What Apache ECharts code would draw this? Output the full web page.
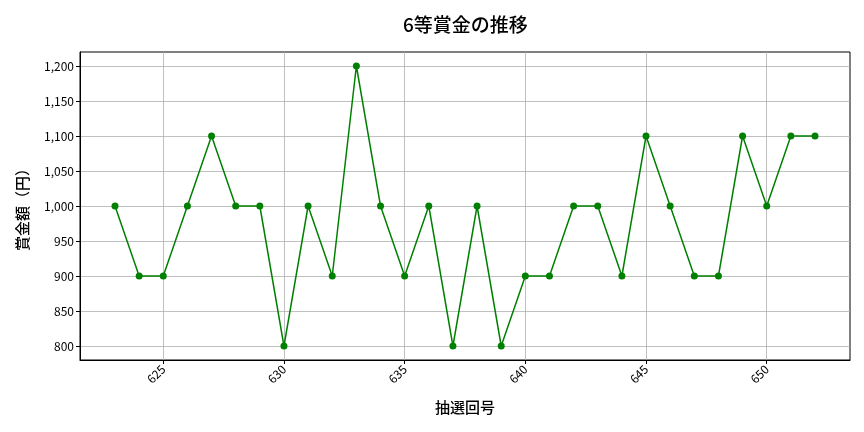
<!DOCTYPE html>
<html>
<head>
<meta charset="utf-8">
<script src="https://cdn.jsdelivr.net/npm/echarts@6/dist/echarts.min.js"></script>
<style>
  html, body { margin: 0; padding: 0; background: #fff; }
  #chart { width: 864px; height: 432px; }
</style>
</head>
<body>
<div id="chart"></div>
<script>
var draws = [623, 624, 625, 626, 627, 628, 629, 630, 631, 632, 633, 634, 635, 636, 637,
             638, 639, 640, 641, 642, 643, 644, 645, 646, 647, 648, 649, 650, 651, 652];
var prizes = [1000, 900, 900, 1000, 1100, 1000, 1000, 800, 1000, 900, 1200, 1000, 900, 1000, 800,
              1000, 800, 900, 900, 1000, 1000, 900, 1100, 1000, 900, 900, 1100, 1000, 1100, 1100];
var xTicks = [625, 630, 635, 640, 645, 650];
var yTicks = [800, 850, 900, 950, 1000, 1050, 1100, 1150, 1200];

var font = '"Noto Sans CJK JP", "Noto Sans", sans-serif';
var chart = echarts.init(document.getElementById('chart'));

chart.setOption({
    animation: false,
    textStyle: { fontFamily: font },
    title: {
        text: '6等賞金の推移',
        left: 398,
        top: 10,
        textStyle: { fontFamily: font, fontSize: 19, fontWeight: 500, color: '#000' }
    },
    grid: { left: 80, right: 14, top: 52, bottom: 72, show: true, borderColor: '#000', borderWidth: 1 },
    xAxis: {
        type: 'value',
        min: 621.55,
        max: 653.45,
        name: '抽選回号',
        nameLocation: 'middle',
        nameGap: 40,
        nameTextStyle: { fontSize: 15, fontWeight: 500, color: '#000' },
        axisLine: { show: true, lineStyle: { color: '#000' } },
        axisTick: { show: true, length: 4, customValues: xTicks, lineStyle: { color: '#000' } },
        axisLabel: { customValues: xTicks, rotate: 45, fontSize: 12, color: '#000', margin: 7 },
        splitLine: { show: true, lineStyle: { color: '#b0b0b0', width: 0.8 } }
    },
    yAxis: {
        type: 'value',
        min: 780,
        max: 1220,
        name: '賞金額（円）',
        nameLocation: 'middle',
        nameGap: 50,
        nameTextStyle: { fontSize: 15, fontWeight: 500, color: '#000' },
        axisLine: { show: true, lineStyle: { color: '#000' } },
        axisTick: { show: true, length: 4, customValues: yTicks, lineStyle: { color: '#000' } },
        axisLabel: {
            customValues: yTicks,
            fontSize: 12, color: '#000', margin: 6,
            formatter: function (v) { return v.toLocaleString('en-US'); }
        },
        splitLine: { show: true, lineStyle: { color: '#b0b0b0', width: 0.8 } }
    },
    series: [{
        type: 'line',
        data: draws.map(function (d, i) { return [d, prizes[i]]; }),
        symbol: 'circle',
        symbolSize: 7,
        lineStyle: { color: '#008000', width: 1.5 },
        itemStyle: { color: '#008000' }
    }]
});
</script>
</body>
</html>
